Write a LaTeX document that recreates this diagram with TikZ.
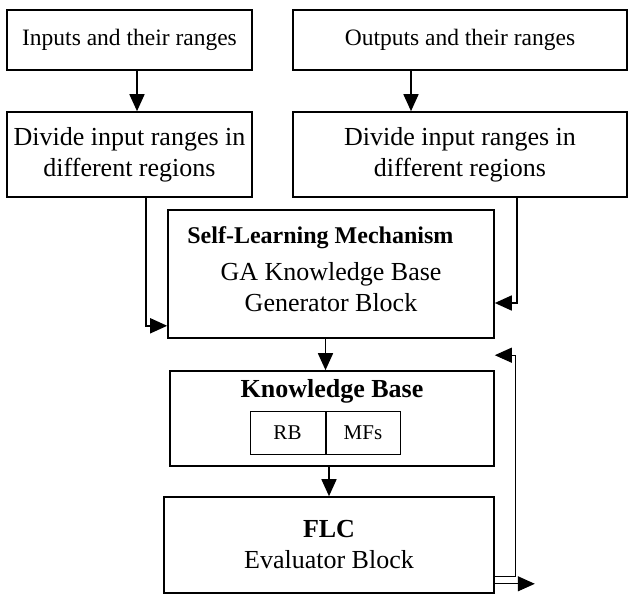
\documentclass[tikz,border=0pt]{standalone}
\usepackage{fontspec}
\setmainfont{Liberation Serif}
\usetikzlibrary{positioning,arrows.meta}

\begin{document}
\begin{tikzpicture}[
	x=1pt, y=-1pt,
	box/.style={rectangle, draw=black, line width=1.6pt, align=center, inner sep=0pt, font=\fontsize{26}{31}\selectfont},
	top/.style={box, minimum height=60pt, font=\fontsize{23.5}{28}\selectfont},
	part/.style={rectangle, draw=black, line width=1pt, inner sep=0pt, minimum height=43pt, font=\fontsize{21}{25}\selectfont},
	txt/.style={inner sep=0pt, align=center, font=\fontsize{26}{31}\selectfont},
	arr/.style={-{Triangle[length=17pt,width=15pt]}, line width=1.6pt}
	]
	\useasboundingbox (0,0) rectangle (629,596);

		\node (inputs) [top, minimum width=245pt] at (129.5,40) {Inputs and their ranges};
		\node (outputs) [top, minimum width=334pt] at (460,40) {Outputs and their ranges};
			\node (divl) [box, minimum width=245pt, minimum height=85pt] at (129.5,154.5) {Divide input ranges in\\different regions};
			\node (divr) [box, minimum width=334pt, minimum height=85pt] at (460,154.5) {Divide input ranges in\\different regions};
				\node (ga) [box, minimum width=326pt, minimum height=128pt] at (331,274) {};
				\node (slm) [txt, anchor=west, font=\bfseries\fontsize{24}{29}\selectfont] at ([xshift=20pt,yshift=-28pt]ga.north west) {Self-Learning Mechanism};
				\node (gagen) [txt] at ([yshift=-13.5pt]ga.center) {GA Knowledge Base\\Generator Block};
					\node (kb) [box, minimum width=324pt, minimum height=95pt] at (332,418.5) {};
					\node (kbtitle) [txt, font=\bfseries\fontsize{26}{31}\selectfont] at ([yshift=-21pt]kb.north) {Knowledge Base};
					\node (rb) [part, minimum width=75pt] at (287.5,432.5) {RB};
					\node (mfs) [part, minimum width=74pt, right=0pt of rb] {MFs};
						\node (flc) [box, minimum width=330pt, minimum height=96pt] at (329,545) {\textbf{FLC}\\Evaluator Block};

	\coordinate (fbend) at ([yshift=15pt]kb.north east);
	\coordinate (outend) at ([xshift=40pt,yshift=10pt]flc.south east);

	\draw [arr] ([xshift=7.5pt]inputs.south)--([xshift=7.5pt]divl.north);
	\draw [arr] ([xshift=-49pt]outputs.south)--([xshift=-49pt]divr.north);
	\draw [arr] ([xshift=16.5pt]divl.south) |- ([yshift=13pt]ga.south west);
	\draw [arr] ([xshift=57pt]divr.south) |- ([yshift=-29pt]ga.east);
	\draw [arr] (ga.south -| rb.east)--(kb.north -| rb.east);
	\draw [arr] (kb.south -| flc.north)--(flc.north);
	\draw [arr, line width=1.1pt] ([yshift=17pt]flc.south east)--++(21,0) |- (fbend);
	\draw [arr, line width=1.1pt] ([yshift=10pt]flc.south east)--(outend);

	\end{tikzpicture}
\end{document}
